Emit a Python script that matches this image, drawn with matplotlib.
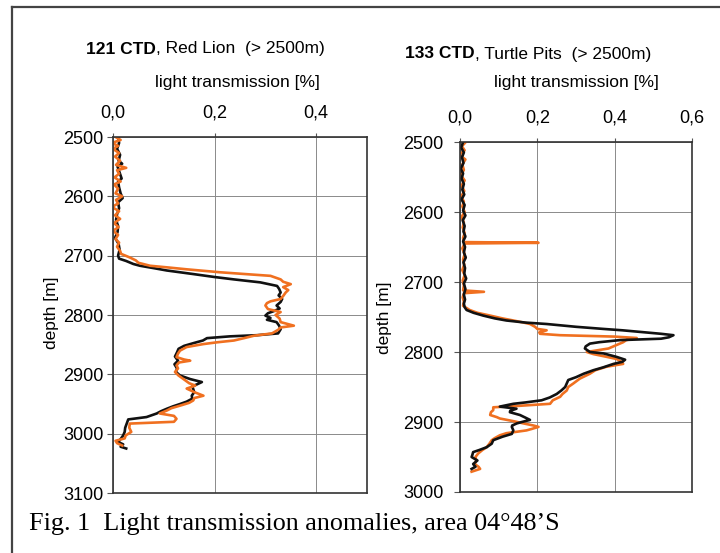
import matplotlib
matplotlib.use('Agg')
import matplotlib.pyplot as plt
from matplotlib.lines import Line2D

plt.rcParams['font.family'] = ['Liberation Sans', 'DejaVu Sans']

# ---- 121 CTD, Red Lion ----
rl_black_depth = [2500, 2510, 2520, 2530, 2540, 2545, 2550, 2560, 2570, 2575, 2585, 2595, 2603, 2610,
                  2620, 2630, 2640, 2650, 2660, 2670, 2680, 2690, 2700, 2705, 2709, 2714, 2717, 2721,
                  2725, 2731, 2736, 2740, 2745, 2751, 2756, 2762, 2767, 2773, 2778, 2784, 2789, 2793,
                  2797, 2801, 2805, 2808, 2812, 2818, 2824, 2831, 2834, 2836, 2839, 2843, 2847, 2852,
                  2857, 2863, 2870, 2877, 2883, 2890, 2896, 2902, 2908, 2913, 2917, 2920, 2925, 2930,
                  2936, 2941, 2946, 2950, 2954, 2958, 2962, 2966, 2972, 2976, 2983, 2990, 2997, 3003,
                  3008, 3014, 3018, 3022, 3025]
rl_black_val = [0.010, 0.012, 0.008, 0.014, 0.011, 0.018, 0.009, 0.013, 0.017, 0.010, 0.012, 0.015, 0.019, 0.010,
                0.012, 0.008, 0.006, 0.010, 0.009, 0.004, 0.011, 0.013, 0.010, 0.012, 0.026, 0.040, 0.053, 0.080,
                0.106, 0.158, 0.200, 0.238, 0.290, 0.323, 0.327, 0.330, 0.326, 0.333, 0.330, 0.322, 0.328, 0.318,
                0.305, 0.300, 0.310, 0.303, 0.322, 0.327, 0.330, 0.325, 0.284, 0.230, 0.185, 0.177, 0.160, 0.140,
                0.129, 0.126, 0.122, 0.128, 0.121, 0.126, 0.124, 0.132, 0.152, 0.175, 0.165, 0.156, 0.158, 0.160,
                0.155, 0.156, 0.145, 0.132, 0.118, 0.106, 0.095, 0.086, 0.066, 0.030, 0.027, 0.024, 0.023, 0.020,
                0.016, 0.010, 0.020, 0.015, 0.026]

rl_orange_depth = [2500, 2505, 2510, 2515, 2520, 2527, 2533, 2540, 2547, 2552, 2556, 2562, 2568, 2575,
                   2580, 2587, 2595, 2600, 2606, 2612, 2618, 2625, 2632, 2638, 2645, 2652, 2658, 2665,
                   2672, 2678, 2685, 2692, 2697, 2703, 2708, 2712, 2717, 2720, 2723, 2728, 2731, 2734,
                   2740, 2744, 2748, 2753, 2758, 2762, 2768, 2773, 2777, 2780, 2784, 2790, 2795, 2800,
                   2806, 2812, 2818, 2821, 2825, 2831, 2835, 2839, 2843, 2846, 2849, 2854, 2860, 2865,
                   2871, 2875, 2877, 2880, 2885, 2890, 2896, 2902, 2910, 2915, 2919, 2924, 2930, 2936,
                   2940, 2944, 2948, 2952, 2957, 2961, 2966, 2970, 2975, 2980, 2983, 2990, 2997, 3003,
                   3008, 3012, 3016, 3020]
rl_orange_val = [0.005, 0.015, -0.002, 0.010, 0.000, 0.012, 0.004, 0.014, 0.006, 0.026, 0.008, 0.012, 0.003, 0.015,
                 0.002, 0.010, 0.005, 0.018, 0.006, 0.010, -0.002, 0.012, 0.004, 0.014, 0.002, 0.011, 0.000, 0.010,
                 0.005, 0.012, 0.008, 0.014, 0.016, 0.033, 0.045, 0.050, 0.073, 0.110, 0.145, 0.211, 0.260, 0.310,
                 0.330, 0.335, 0.350, 0.335, 0.345, 0.340, 0.335, 0.330, 0.310, 0.303, 0.300, 0.305, 0.330, 0.320,
                 0.328, 0.330, 0.356, 0.330, 0.325, 0.313, 0.277, 0.258, 0.238, 0.205, 0.178, 0.145, 0.132, 0.128,
                 0.125, 0.140, 0.152, 0.130, 0.125, 0.128, 0.122, 0.129, 0.142, 0.150, 0.162, 0.145, 0.160, 0.178,
                 0.160, 0.158, 0.150, 0.135, 0.115, 0.106, 0.092, 0.120, 0.125, 0.120, 0.033, 0.032, 0.036, 0.025,
                 0.023, 0.005, 0.008, 0.018]

# ---- 133 CTD, Turtle Pits ----
tp_black_depth = [2500, 2508, 2515, 2522, 2530, 2538, 2545, 2552, 2560, 2568, 2575, 2582, 2590, 2598,
                  2605, 2612, 2620, 2628, 2635, 2642, 2650, 2658, 2665, 2672, 2680, 2688, 2695, 2702,
                  2710, 2718, 2725, 2731, 2736, 2740, 2744, 2748, 2752, 2755, 2758, 2760, 2764, 2767,
                  2769, 2772, 2774, 2776, 2779, 2781, 2783, 2786, 2788, 2792, 2795, 2800, 2802, 2807,
                  2811, 2814, 2817, 2822, 2826, 2831, 2836, 2840, 2845, 2850, 2855, 2860, 2865, 2869,
                  2872, 2874, 2878, 2881, 2884, 2886, 2890, 2894, 2897, 2900, 2902, 2905, 2907, 2912,
                  2917, 2921, 2926, 2931, 2936, 2940, 2943, 2947, 2950, 2955, 2960, 2964, 2967]
tp_black_val = [0.008, 0.003, 0.010, 0.005, 0.009, 0.002, 0.008, 0.004, 0.010, 0.006, 0.011, 0.004, 0.012, 0.008,
                0.014, 0.007, 0.012, 0.009, 0.014, 0.008, 0.013, 0.010, 0.015, 0.009, 0.013, 0.011, 0.016, 0.010,
                0.014, 0.010, 0.013, 0.010, 0.012, 0.017, 0.035, 0.060, 0.090, 0.120, 0.170, 0.224, 0.300, 0.370,
                0.420, 0.480, 0.520, 0.552, 0.540, 0.520, 0.414, 0.360, 0.336, 0.325, 0.323, 0.336, 0.371, 0.405,
                0.427, 0.420, 0.397, 0.370, 0.345, 0.320, 0.300, 0.280, 0.276, 0.272, 0.262, 0.250, 0.232, 0.211,
                0.170, 0.138, 0.103, 0.146, 0.130, 0.129, 0.155, 0.170, 0.181, 0.160, 0.147, 0.135, 0.134, 0.138,
                0.134, 0.110, 0.086, 0.082, 0.069, 0.050, 0.034, 0.032, 0.030, 0.045, 0.034, 0.040, 0.030]

tp_orange_depth = [2500, 2506, 2512, 2518, 2525, 2532, 2540, 2547, 2555, 2562, 2570, 2578, 2585, 2592,
                   2600, 2607, 2615, 2622, 2630, 2637, 2643, 2644, 2645, 2652, 2660, 2668, 2675, 2683,
                   2690, 2698, 2705, 2712, 2714, 2716, 2722, 2728, 2734, 2740, 2744, 2748, 2752, 2755,
                   2758, 2760, 2764, 2767, 2769, 2772, 2774, 2776, 2778, 2780, 2783, 2786, 2790, 2795,
                   2800, 2803, 2807, 2810, 2814, 2817, 2821, 2826, 2831, 2838, 2845, 2850, 2855, 2860,
                   2864, 2869, 2874, 2877, 2879, 2883, 2886, 2890, 2893, 2895, 2899, 2902, 2905, 2907,
                   2910, 2912, 2916, 2919, 2923, 2926, 2931, 2936, 2940, 2945, 2950, 2955, 2960, 2964,
                   2967, 2971]
tp_orange_val = [0.015, 0.005, 0.012, -0.002, 0.014, 0.006, 0.010, 0.002, 0.012, 0.004, 0.011, 0.003, 0.010, 0.006,
                 0.012, 0.004, 0.010, 0.007, 0.012, 0.008, 0.010, 0.203, 0.012, 0.006, 0.012, 0.008, 0.011, 0.006,
                 0.012, 0.007, 0.010, 0.008, 0.062, 0.010, 0.007, 0.010, 0.008, 0.025, 0.045, 0.078, 0.110, 0.138,
                 0.165, 0.181, 0.194, 0.200, 0.224, 0.205, 0.207, 0.259, 0.400, 0.457, 0.430, 0.422, 0.405, 0.384,
                 0.328, 0.345, 0.380, 0.405, 0.418, 0.422, 0.379, 0.350, 0.336, 0.310, 0.293, 0.280, 0.276, 0.265,
                 0.259, 0.240, 0.233, 0.150, 0.086, 0.086, 0.080, 0.078, 0.095, 0.103, 0.140, 0.164, 0.190, 0.203,
                 0.185, 0.172, 0.120, 0.103, 0.090, 0.082, 0.076, 0.069, 0.058, 0.047, 0.040, 0.042, 0.038, 0.048,
                 0.052, 0.030]

rl_xticks = [0.0, 0.2, 0.4]
rl_xlabels = ['0,0', '0,2', '0,4']
tp_xticks = [0.0, 0.2, 0.4, 0.6]
tp_xlabels = ['0,0', '0,2', '0,4', '0,6']
rl_yticks = [2500, 2600, 2700, 2800, 2900, 3000, 3100]
tp_yticks = [2500, 2600, 2700, 2800, 2900, 3000]

BLACK = '#111111'
ORANGE = '#f07020'
LW = 1.9
W, H = 720, 553


def fx(px):
    return px / W


def fy(py):
    return 1 - py / H


def style_axes(ax, xticks, xlabels, yticks, xmax, ypad):
    ax.set_xlim(0, xmax)
    ax.set_ylim(yticks[-1], yticks[0])
    ax.set_xticks(xticks)
    ax.set_xticklabels(xlabels)
    ax.set_yticks(yticks)
    ax.xaxis.tick_top()
    ax.grid(True, color='#8a8a8a', linewidth=0.7)
    ax.set_axisbelow(True)
    for s in ax.spines.values():
        s.set_color('#333333')
        s.set_linewidth(1.2)
    ax.tick_params(axis='x', direction='out', length=3, pad=8, labelsize=13, color='#555555')
    ax.tick_params(axis='y', direction='out', length=4, pad=ypad, labelsize=13, color='#555555')


fig = plt.figure(figsize=(7.2, 5.53), dpi=100)

ax1 = fig.add_axes([fx(113), fy(493), fx(367) - fx(113), fy(137) - fy(493)])
ax1.plot(rl_black_val, rl_black_depth, color=BLACK, lw=LW)
ax1.plot(rl_orange_val, rl_orange_depth, color=ORANGE, lw=LW)
style_axes(ax1, rl_xticks, rl_xlabels, rl_yticks, 0.5, 3)

ax2 = fig.add_axes([fx(460), fy(492), fx(692) - fx(460), fy(142) - fy(492)])
ax2.plot(tp_orange_val, tp_orange_depth, color=ORANGE, lw=LW)
ax2.plot(tp_black_val, tp_black_depth, color=BLACK, lw=LW)
style_axes(ax2, tp_xticks, tp_xlabels, tp_yticks, 0.6, 8)

# panel titles: bold station, plain site name
fig.text(fx(156), fy(49), '121 CTD', ha='right', va='center', fontsize=12.5, fontweight='bold')
fig.text(fx(156), fy(49), ', Red Lion  (> 2500m)', ha='left', va='center', fontsize=12.5)
fig.text(fx(475), fy(54), '133 CTD', ha='right', va='center', fontsize=12.5, fontweight='bold')
fig.text(fx(475), fy(54), ', Turtle Pits  (> 2500m)', ha='left', va='center', fontsize=12.5)

fig.text(fx(237), fy(82), 'light transmission [%]', ha='center', va='center', fontsize=12.5)
fig.text(fx(576), fy(83), 'light transmission [%]', ha='center', va='center', fontsize=12.5)

fig.text(fx(52), fy(313), 'depth [m]', ha='center', va='center', rotation=90, fontsize=12.5)
fig.text(fx(384), fy(318), 'depth [m]', ha='center', va='center', rotation=90, fontsize=12.5)

fig.text(fx(29), fy(530), 'Fig. 1  Light transmission anomalies, area 04\u00b048\u2019S',
         ha='left', va='baseline', fontsize=18.8, family=['Liberation Serif', 'DejaVu Serif'])

# outer frame (left and top edges)
fig.add_artist(Line2D([fx(12), fx(12)], [fy(7), 0], transform=fig.transFigure,
                      color='#444444', lw=1.6))
fig.add_artist(Line2D([fx(12), 1], [fy(7), fy(7)], transform=fig.transFigure,
                      color='#444444', lw=1.6))

fig.savefig('out.png', dpi=100)
